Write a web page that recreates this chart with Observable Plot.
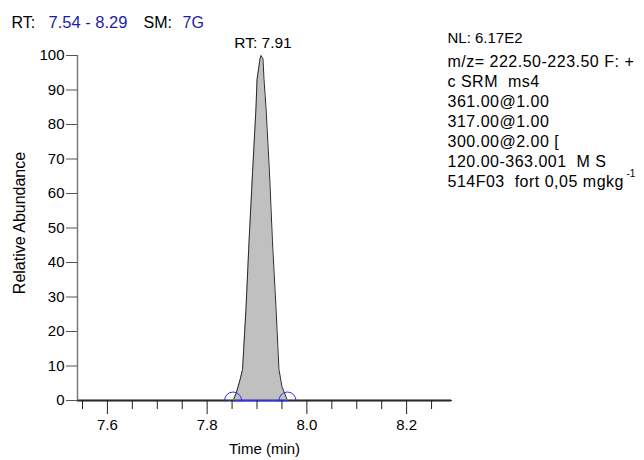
<!DOCTYPE html>
<html>
<head>
<meta charset="utf-8">
<script src="https://cdn.jsdelivr.net/npm/d3@7"></script>
<script src="https://cdn.jsdelivr.net/npm/@observablehq/plot@0.6"></script>
<style>
  html, body { margin: 0; padding: 0; background: #fff; }
  #chart { width: 644px; height: 460px; }
  .info text { letter-spacing: 0.5px; }
</style>
</head>
<body>
<div id="chart"></div>
<script>
// ---- data ----
const times = [7.54, 7.845, 7.852, 7.858, 7.866, 7.871, 7.878, 7.884, 7.891, 7.898, 7.900, 7.906, 7.908, 7.912, 7.914, 7.918, 7.925, 7.931, 7.938, 7.944, 7.950, 7.961, 7.97, 8.29];
const abundance = [0, 0, 0, 2, 6, 9, 27, 46, 66, 85, 93, 99, 100, 99, 93, 85, 66, 46, 27, 9, 4, 0, 0, 0];
const peakStart = 7.852;
const peakEnd = 7.961;
const apexRT = 7.91;
const xDomain = [7.54, 8.29];
const yTicks = [0, 10, 20, 30, 40, 50, 60, 70, 80, 90, 100];
const xMajorTicks = [7.6, 7.8, 8.0, 8.2];
const xMinorTicks = [7.55, 7.65, 7.7, 7.75, 7.85, 7.9, 7.95, 8.05, 8.1, 8.15, 8.25];
const titleParts = ["RT:", "7.54 - 8.29", "SM:", "7G"];
const nlLine = "NL: 6.17E2";
const infoLines = ["m/z=\u00a0222.50-223.50\u00a0F: +", "c SRM\u00a0\u00a0ms4", "361.00@1.00", "317.00@1.00", "300.00@2.00 [", "120.00-363.001\u00a0\u00a0M S", "514F03\u00a0\u00a0fort 0,05\u00a0mgkg"];
const superscript = "-1";
const xLabel = "Time (min)";
const yLabel = "Relative Abundance";

const trace = times.map((t, i) => ({t, v: abundance[i]}));
const peak = trace.filter(d => d.t >= peakStart && d.t <= peakEnd);

const arcSymbol = {
  draw(context, size) {
    const r = Math.sqrt(size / Math.PI);
    const a0 = Math.PI - 0.12, a1 = 2 * Math.PI + 0.12;
    context.moveTo(r * Math.cos(a0), r * Math.sin(a0));
    context.arc(0, 0, r, a0, a1);
  }
};

const blue = "#2f2fff";
const darkBlue = "#1c1ca6";
const font = 15;

const chart = Plot.plot({
  width: 644,
  height: 460,
  marginLeft: 77,
  marginRight: 193,
  marginTop: 55,
  marginBottom: 60,
  style: {fontFamily: "'Liberation Sans', Arial, sans-serif", background: "#fff", color: "#000"},
  x: {domain: xDomain},
  y: {domain: [0, 100]},
  marks: [
    Plot.areaY(peak, {x: "t", y: "v", fill: "#c0c0c0"}),
    Plot.line(trace, {x: "t", y: "v", stroke: "#2a2a2a", strokeWidth: 1}),
    Plot.ruleY([0], {stroke: "#8c8c8c", strokeWidth: 1, dy: -1}),
    Plot.ruleY([0], {stroke: "#8c8c8c", strokeWidth: 1, dy: 1}),
    Plot.ruleX([xDomain[0]], {y1: 0, y2: 100, stroke: "#7a7a7a", strokeWidth: 1.5}),
    Plot.lineY([{t: peakStart, v: 0}, {t: peakEnd, v: 0}], {x: "t", y: "v", stroke: blue, strokeWidth: 1.5}),
    Plot.dot([peakStart, peakEnd], {x: d => d, y: 0, r: 8.5, symbol: arcSymbol, stroke: blue, strokeWidth: 1, fill: "none"}),
    Plot.axisY({ticks: yTicks, tickSize: 11, tickPadding: 2, fontSize: font, label: null, stroke: "#555"}),
    Plot.axisX({ticks: xMinorTicks, tickSize: 9, tickFormat: () => "", label: null, stroke: "#222"}),
    Plot.axisX({ticks: xMajorTicks, tickSize: 14, tickPadding: 5, tickFormat: d3.format(".1f"), fontSize: font, label: null, stroke: "#222"}),
    Plot.text([xLabel], {frameAnchor: "bottom", dy: 49, lineAnchor: "middle", fontSize: font}),
    Plot.text([yLabel], {frameAnchor: "left", dx: -58, dy: -5, rotate: -90, textAnchor: "middle", lineAnchor: "middle", fontSize: 16}),
    Plot.text([{t: apexRT, v: 100}], {x: "t", y: "v", text: d => "RT: " + d.t.toFixed(2), dx: 1, dy: -8, lineAnchor: "bottom", fontSize: 15.5}),
    Plot.text([titleParts[0]], {frameAnchor: "top-left", dx: -66, dy: -28, lineAnchor: "bottom", textAnchor: "start", fontSize: 16}),
    Plot.text([titleParts[1]], {frameAnchor: "top-left", dx: -29, dy: -28, lineAnchor: "bottom", textAnchor: "start", fontSize: 16.5, fill: darkBlue}),
    Plot.text([titleParts[2]], {frameAnchor: "top-left", dx: 66, dy: -28, lineAnchor: "bottom", textAnchor: "start", fontSize: 16}),
    Plot.text([titleParts[3]], {frameAnchor: "top-left", dx: 105, dy: -28, lineAnchor: "bottom", textAnchor: "start", fontSize: 16, fill: darkBlue}),
    Plot.text([nlLine], {frameAnchor: "top-right", dx: -4, dy: -13, lineAnchor: "bottom", textAnchor: "start", fontSize: 15}),
    Plot.text([infoLines.join("\n")], {className: "info", frameAnchor: "top-right", dx: -4, dy: -3, lineAnchor: "top", textAnchor: "start", lineHeight: 1.25, fontSize: 16}),
    Plot.text([superscript], {frameAnchor: "top-right", dx: 175, dy: 121, lineAnchor: "bottom", textAnchor: "start", fontSize: 10})
  ]
});
document.getElementById("chart").appendChild(chart);
</script>
</body>
</html>
